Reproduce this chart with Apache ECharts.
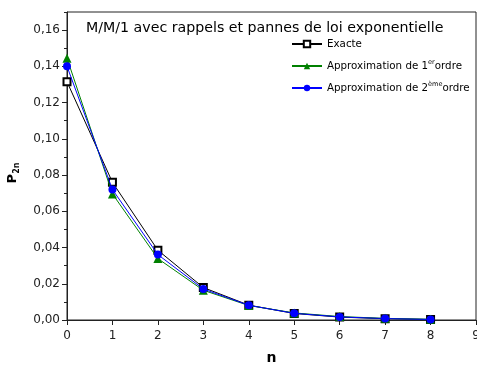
<!DOCTYPE html>
<html>
<head>
<meta charset="utf-8">
<script src="https://cdn.jsdelivr.net/npm/echarts@6/dist/echarts.min.js"></script>
<style>
  html, body { margin: 0; padding: 0; background: #fff; }
  #chart { width: 477px; height: 365px; }
</style>
</head>
<body>
<div id="chart"></div>
<script>
// Stationary probabilities P_2n of the M/M/1 retrial queue with exponential breakdowns
const nValues = [0, 1, 2, 3, 4, 5, 6, 7, 8];
const exacte = [0.1315, 0.0760, 0.0385, 0.0179, 0.0082, 0.0036, 0.0016, 0.0007, 0.0003];
const approx1 = [0.1445, 0.0696, 0.0339, 0.0164, 0.0080, 0.0039, 0.0019, 0.0009, 0.0004];
const approx2 = [0.1400, 0.0720, 0.0361, 0.0171, 0.0081, 0.0037, 0.0017, 0.0008, 0.0003];

const yMajorTicks = [0, 0.02, 0.04, 0.06, 0.08, 0.10, 0.12, 0.14, 0.16];
const xTicks = [0, 1, 2, 3, 4, 5, 6, 7, 8, 9];

const seriesNames = ['Exacte', 'Approximation de 1er ordre', 'Approximation de 2ème ordre'];
const legendLabels = {
  'Exacte': 'Exacte',
  'Approximation de 1er ordre': 'Approximation de 1{sup|er}ordre',
  'Approximation de 2ème ordre': 'Approximation de 2{sup|ème}ordre'
};

const FONT = 'DejaVu Sans';
const toPairs = arr => arr.map((v, i) => [nValues[i], v]);

const chart = echarts.init(document.getElementById('chart'), null, { renderer: 'canvas' });

chart.setOption({
  animation: false,
  backgroundColor: '#fff',
  title: {
    text: 'M/M/1 avec rappels et pannes de loi exponentielle',
    left: 86,
    top: 21,
    padding: 0,
    textStyle: { fontFamily: FONT, fontSize: 14.2, fontWeight: 'normal', color: '#000', lineHeight: 15 }
  },
  legend: {
    orient: 'vertical',
    left: 291,
    top: 37,
    padding: 0,
    itemWidth: 30,
    itemHeight: 8,
    itemGap: 8,
    data: seriesNames,
    formatter: name => legendLabels[name],
    textStyle: {
      fontFamily: FONT, fontSize: 10.3, color: '#000', lineHeight: 14,
      rich: {
        sup: { fontFamily: FONT, fontSize: 6.5, color: '#000', verticalAlign: 'top', lineHeight: 8 }
      }
    }
  },
  grid: {
    left: 67, right: 1, top: 12, bottom: 45,
    outerBoundsMode: 'none',
    containLabel: false,
    show: true, borderColor: '#222', borderWidth: 1, backgroundColor: 'transparent'
  },
  xAxis: {
    type: 'value',
    min: 0, max: 9, interval: 1,
    name: 'n',
    nameLocation: 'middle',
    nameGap: 31,
    nameTextStyle: { fontFamily: FONT, fontSize: 14, fontWeight: 'bold', color: '#000', lineHeight: 14 },
    axisLine: { show: true, onZero: false, lineStyle: { color: '#222', width: 1 } },
    axisTick: { show: true, inside: false, length: 5, customValues: xTicks, lineStyle: { color: '#222' } },
    axisLabel: { margin: 10, customValues: xTicks, fontFamily: FONT, fontSize: 12, color: '#222' },
    splitLine: { show: false }
  },
  yAxis: {
    type: 'value',
    min: 0, max: 0.17, interval: 0.02,
    name: '{p|P}{s|2n}',
    nameLocation: 'middle',
    nameRotate: 90,
    nameGap: 46,
    nameTextStyle: {
      padding: [0, 14, 0, 0],
      rich: {
        p: { fontFamily: FONT, fontSize: 13, fontWeight: 'bold', color: '#000', lineHeight: 16 },
        s: { fontFamily: FONT, fontSize: 8, fontWeight: 'bold', color: '#000', verticalAlign: 'bottom', lineHeight: 10 }
      }
    },
    axisLine: { show: true, onZero: false, lineStyle: { color: '#222', width: 1 } },
    axisTick: { show: true, inside: false, length: 5, customValues: yMajorTicks, lineStyle: { color: '#222' } },
    minorTick: { show: true, splitNumber: 2, length: 3, lineStyle: { color: '#222' } },
    axisLabel: {
      margin: 7,
      customValues: yMajorTicks,
      fontFamily: FONT, fontSize: 12, color: '#222',
      formatter: v => v.toFixed(2).replace('.', ',')
    },
    splitLine: { show: false },
    minorSplitLine: { show: false }
  },
  series: [
    {
      name: seriesNames[0],
      type: 'line',
      data: toPairs(exacte),
      symbol: 'emptyRect',
      symbolSize: 7,
      showAllSymbol: true,
      lineStyle: { color: '#000', width: 1 },
      itemStyle: { color: '#000', borderWidth: 1 },
      z: 2
    },
    {
      name: seriesNames[1],
      type: 'line',
      data: toPairs(approx1),
      symbol: 'triangle',
      symbolSize: 9,
      showAllSymbol: true,
      lineStyle: { color: '#008000', width: 1 },
      itemStyle: { color: '#008000' },
      z: 3
    },
    {
      name: seriesNames[2],
      type: 'line',
      data: toPairs(approx2),
      symbol: 'circle',
      symbolSize: 8,
      showAllSymbol: true,
      lineStyle: { color: '#0000ff', width: 1 },
      itemStyle: { color: '#0000ff' },
      z: 4
    }
  ]
});
</script>
</body>
</html>
